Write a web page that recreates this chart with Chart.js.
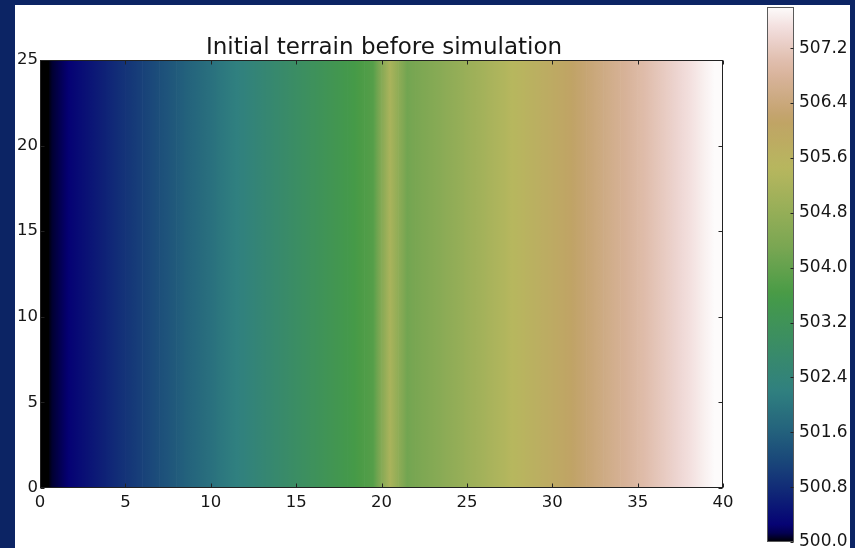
<!DOCTYPE html>
<html>
<head>
<meta charset="utf-8">
<script src="https://cdn.jsdelivr.net/npm/chart.js@4.4.1/dist/chart.umd.min.js"></script>
<style>
  html, body { margin: 0; padding: 0; }
  body { width: 855px; height: 548px; background: #0c2464; position: relative; overflow: hidden; }
  #panel { position: absolute; left: 15px; top: 5px; width: 835px; height: 543px; background: #fff; }
  #terrain { position: absolute; left: 15px; top: 5px; }
  #cbar { position: absolute; left: 755px; top: 0px; }
</style>
</head>
<body>
<div id="panel"></div>
<canvas id="terrain" width="738" height="543"></canvas>
<canvas id="cbar" width="95" height="548"></canvas>
<script>
// ====== data ======
// grid columns (left edge of each cell, x units)
const columns = [0, 1, 2, 3, 4, 5, 6, 7, 8, 9, 10, 11, 12, 13, 14, 15, 16, 17, 18, 19,
                 20, 21, 22, 23, 24, 25, 26, 27, 28, 29, 30, 31, 32, 33, 34, 35, 36, 37, 38, 39];
// elevation of each column (same for every row), small ridge at x=20
const elevation = [500.0, 500.2, 500.4, 500.6, 500.8, 501.0, 501.2, 501.4, 501.6, 501.8,
                   502.0, 502.2, 502.4, 502.6, 502.8, 503.0, 503.2, 503.4, 503.6, 503.8,
                   505.2, 504.2, 504.4, 504.6, 504.8, 505.0, 505.2, 505.4, 505.6, 505.8,
                   506.0, 506.2, 506.4, 506.6, 506.8, 507.0, 507.2, 507.4, 507.6, 507.8];
const rowsTop = 25;
const xTicks = [0, 5, 10, 15, 20, 25, 30, 35, 40];
const yTicks = [0, 5, 10, 15, 20, 25];
const cbarTicks = [500.0, 500.8, 501.6, 502.4, 503.2, 504.0, 504.8, 505.6, 506.4, 507.2];
const titleText = 'Initial terrain before simulation';

const vmin = Math.min(...elevation);
const vmax = Math.max(...elevation);

// ====== gist_earth colormap ======
const gistEarth = {
  r: [[0, 0], [0.2824, 0.1882], [0.4588, 0.2714], [0.5490, 0.4719], [0.6980, 0.7176],
      [0.7882, 0.7553], [1, 0.9922]],
  g: [[0, 0], [0.0275, 0], [0.1098, 0.1893], [0.1647, 0.3035], [0.2078, 0.3841],
      [0.2824, 0.5020], [0.5216, 0.6397], [0.6980, 0.7171], [0.7882, 0.6392], [0.7922, 0.6413],
      [0.8000, 0.6447], [0.8078, 0.6481], [0.8157, 0.6549], [0.8667, 0.6991], [0.8745, 0.7103],
      [0.8824, 0.7216], [0.8902, 0.7323], [0.8980, 0.7430], [0.9412, 0.8275], [0.9569, 0.8635],
      [0.9647, 0.8816], [0.9961, 0.9733], [1, 0.9843]],
  b: [[0, 0], [0.0039, 0.1684], [0.0078, 0.2212], [0.0275, 0.4329], [0.0314, 0.4549],
      [0.2824, 0.5004], [0.4667, 0.2748], [0.5451, 0.3205], [0.7843, 0.3961], [0.8941, 0.6651],
      [1, 0.9843]]
};

function channel(pts, t) {
  for (let k = 1; k < pts.length; k++) {
    if (t <= pts[k][0]) {
      let [t0, v0] = pts[k - 1], [t1, v1] = pts[k];
      return v0 + (v1 - v0) * (t - t0) / (t1 - t0);
    }
  }
  return pts[pts.length - 1][1];
}

function cmap(v) {
  let t = Math.min(1, Math.max(0, (v - vmin) / (vmax - vmin)));
  let r = Math.round(channel(gistEarth.r, t) * 255),
      g = Math.round(channel(gistEarth.g, t) * 255),
      b = Math.round(channel(gistEarth.b, t) * 255);
  return `rgb(${r}, ${g}, ${b})`;
}

// smooth value between cell centres (like imshow bilinear)
function valueAt(u) {
  let p = u - 0.5, n = elevation.length;
  if (p <= 0) return elevation[0];
  if (p >= n - 1) return elevation[n - 1];
  let j = Math.floor(p), f = p - j;
  return elevation[j] * (1 - f) + elevation[j + 1] * f;
}

// frame + inward ticks, matplotlib style
const frameTicks = {
  id: 'frameTicks',
  afterDatasetsDraw(chart, args, opts) {
    let { ctx, chartArea: a } = chart;
    let L = Math.round(a.left) + 0.5, R = Math.round(a.right) - 0.5,
        T = Math.round(a.top) + 0.5, B = Math.round(a.bottom) - 0.5;
    ctx.save();
    ctx.lineWidth = 1;
    ctx.strokeStyle = opts.frameColor;
    ctx.strokeRect(L, T, R - L, B - T);
    ctx.strokeStyle = opts.tickColor;
    ctx.beginPath();
    (opts.xSides || []).forEach(side => {
      let xs = chart.scales.x;
      xs.ticks.forEach(tk => {
        let px = Math.round(xs.getPixelForValue(tk.value)) + 0.5;
        if (side === 'bottom') { ctx.moveTo(px, B); ctx.lineTo(px, B - opts.len); }
        else { ctx.moveTo(px, T); ctx.lineTo(px, T + opts.len); }
      });
    });
    (opts.ySides || []).forEach(side => {
      let ys = chart.scales.y;
      ys.ticks.forEach(tk => {
        let py = Math.round(ys.getPixelForValue(tk.value)) + 0.5;
        if (side === 'left') { ctx.moveTo(L, py); ctx.lineTo(L + opts.len, py); }
        else { ctx.moveTo(R, py); ctx.lineTo(R - opts.len, py); }
      });
    });
    ctx.stroke();
    ctx.restore();
  }
};

const font = (size) => ({ family: '"DejaVu Sans", sans-serif', size: size, weight: 'normal' });
const textColor = '#161616';

// ====== terrain chart ======
new Chart(document.getElementById('terrain').getContext('2d'), {
  type: 'bar',
  data: {
    datasets: [{
      data: columns.map(c => ({ x: c + 0.5, y: [0, rowsTop] })),
      borderWidth: 0,
      barPercentage: 1,
      categoryPercentage: 1,
      backgroundColor: (c) => {
        let chart = c.chart;
        if (!chart.chartArea || c.type !== 'data') return '#000';
        let i = c.dataIndex, xs = chart.scales.x;
        let x0 = xs.getPixelForValue(columns[i]), x1 = xs.getPixelForValue(columns[i] + 1);
        let grad = chart.ctx.createLinearGradient(x0, 0, x1, 0);
        for (let s = 0; s <= 10; s++) {
          grad.addColorStop(s / 10, cmap(valueAt(columns[i] + s / 10)));
        }
        return grad;
      }
    }]
  },
  options: {
    responsive: false,
    animation: false,
    events: [],
    layout: { padding: 0 },
    plugins: {
      legend: { display: false },
      tooltip: { enabled: false },
      title: {
        display: true,
        text: titleText,
        color: textColor,
        font: { ...font(23), lineHeight: 1 },
        padding: { top: 31.5, bottom: 0.5 }
      },
      frameTicks: { frameColor: '#222', tickColor: '#222', len: 4, xSides: ['bottom', 'top'], ySides: ['left', 'right'] }
    },
    scales: {
      x: {
        type: 'linear',
        min: 0,
        max: 40,
        offset: false,
        grid: { display: false, drawTicks: false },
        border: { display: false },
        afterBuildTicks: (s) => { s.ticks = xTicks.map(v => ({ value: v })); },
        afterFit: (s) => { s.height = 60; s.paddingLeft = 0; s.paddingRight = 0; },
        ticks: { color: textColor, font: font(16.5), padding: 5, maxRotation: 0, autoSkip: false }
      },
      y: {
        type: 'linear',
        min: 0,
        max: 25,
        grid: { display: false, drawTicks: false },
        border: { display: false },
        afterBuildTicks: (s) => { s.ticks = yTicks.map(v => ({ value: v })); },
        afterFit: (s) => { s.width = 25; s.paddingTop = 0; s.paddingBottom = 0; },
        ticks: { color: textColor, font: font(16.5), padding: 2, autoSkip: false }
      },
      // empty right margin so the title sits where matplotlib put it
      yRight: {
        type: 'linear',
        position: 'right',
        min: 0,
        max: 1,
        grid: { display: false, drawTicks: false },
        border: { display: false },
        ticks: { display: false },
        afterFit: (s) => { s.width = 30; s.paddingTop = 0; s.paddingBottom = 0; }
      }
    }
  },
  plugins: [frameTicks]
});

// ====== colorbar ======
new Chart(document.getElementById('cbar').getContext('2d'), {
  type: 'bar',
  data: {
    labels: [''],
    datasets: [{
      data: [[vmin, vmax]],
      borderWidth: 0,
      barPercentage: 1,
      categoryPercentage: 1,
      backgroundColor: (c) => {
        let chart = c.chart;
        if (!chart.chartArea || c.type !== 'data') return '#000';
        let ys = chart.scales.y;
        let grad = chart.ctx.createLinearGradient(0, ys.getPixelForValue(vmin), 0, ys.getPixelForValue(vmax));
        for (let s = 0; s <= 60; s++) {
          grad.addColorStop(s / 60, cmap(vmin + (vmax - vmin) * s / 60));
        }
        return grad;
      }
    }]
  },
  options: {
    responsive: false,
    animation: false,
    events: [],
    layout: { padding: { left: 12, right: 0, top: 7, bottom: 6 } },
    plugins: {
      legend: { display: false },
      tooltip: { enabled: false },
      frameTicks: { frameColor: '#5a5a5a', tickColor: '#222', len: 3, ySides: ['right'] }
    },
    scales: {
      x: { display: false },
      y: {
        position: 'right',
        min: vmin,
        max: vmax,
        grid: { display: false, drawTicks: false },
        border: { display: false },
        afterBuildTicks: (s) => { s.ticks = cbarTicks.map(v => ({ value: v })); },
        afterFit: (s) => { s.width = 56; s.paddingTop = 0; s.paddingBottom = 0; },
        ticks: {
          color: textColor,
          font: font(17),
          padding: 5,
          autoSkip: false,
          callback: (v) => Number(v).toFixed(1)
        }
      }
    }
  },
  plugins: [frameTicks]
});
</script>
</body>
</html>
